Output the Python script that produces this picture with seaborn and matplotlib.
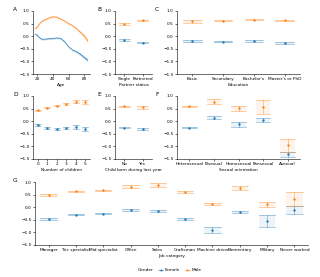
import matplotlib
matplotlib.use("Agg")
import matplotlib.pyplot as plt
import numpy as np
import pandas as pd
import seaborn as sns
from matplotlib.lines import Line2D
from matplotlib.patches import Patch

# ---- data ----
genders = ["Female", "Male"]

age = [18, 20, 23, 26, 30, 35, 40, 45, 50, 55, 60, 65, 70, 75, 80, 84]
age_female = [0.08, 0.05, -0.05, -0.12, -0.12, -0.10, -0.09, -0.07, -0.09, -0.22, -0.42, -0.55, -0.62, -0.72, -0.85, -0.95]
age_female_ci = [0.05, 0.04, 0.03, 0.03, 0.03, 0.03, 0.03, 0.03, 0.03, 0.03, 0.03, 0.03, 0.04, 0.05, 0.06, 0.08]
age_male = [0.30, 0.36, 0.48, 0.58, 0.66, 0.72, 0.77, 0.76, 0.68, 0.60, 0.50, 0.42, 0.30, 0.15, 0.00, -0.18]
age_male_ci = [0.05, 0.04, 0.03, 0.03, 0.03, 0.03, 0.03, 0.03, 0.03, 0.03, 0.03, 0.03, 0.04, 0.05, 0.06, 0.08]

partner_cats = ["Single", "Partnered"]
partner_female = [-0.15, -0.26]
partner_female_err = [0.03, 0.02]
partner_male = [0.48, 0.63]
partner_male_err = [0.04, 0.03]

edu_cats = ["Basic", "Secondary", "Bachelor's", "Master's or PhD"]
edu_female = [-0.20, -0.22, -0.20, -0.27]
edu_female_err = [0.05, 0.03, 0.03, 0.03]
edu_male = [0.59, 0.62, 0.66, 0.63]
edu_male_err = [0.07, 0.03, 0.03, 0.03]

child_cats = ["0", "1", "2", "3", "4", "5"]
child_female = [-0.16, -0.26, -0.30, -0.27, -0.23, -0.32]
child_female_err = [0.03, 0.03, 0.03, 0.04, 0.06, 0.07]
child_male = [0.43, 0.54, 0.62, 0.68, 0.77, 0.78]
child_male_err = [0.03, 0.03, 0.03, 0.04, 0.06, 0.08]

born_cats = ["No", "Yes"]
born_female = [-0.26, -0.31]
born_female_err = [0.02, 0.05]
born_male = [0.59, 0.56]
born_male_err = [0.02, 0.06]

orient_cats = ["Heterosexual", "Bisexual", "Homosexual", "Pansexual", "Asexual"]
orient_female = [-0.26, 0.14, -0.12, 0.03, -1.32]
orient_female_err = [0.02, 0.06, 0.10, 0.08, 0.09]
orient_male = [0.59, 0.78, 0.51, 0.56, -0.96]
orient_male_err = [0.02, 0.09, 0.10, 0.27, 0.25]

job_cats = ["Manager", "Tec specialist", "Mid specialist", "Office", "Sales",
            "Craftsman", "Machine driver", "Elementary", "Military", "Never worked"]
job_female = [-0.46, -0.29, -0.25, -0.10, -0.16, -0.45, -0.91, -0.20, -0.54, -0.12]
job_female_err = [0.03, 0.03, 0.03, 0.04, 0.05, 0.04, 0.13, 0.04, 0.25, 0.16]
job_male = [0.49, 0.63, 0.67, 0.82, 0.87, 0.60, 0.13, 0.76, 0.12, 0.33]
job_male_err = [0.04, 0.03, 0.03, 0.07, 0.08, 0.04, 0.05, 0.07, 0.10, 0.27]

palette = {"Female": "#1f77b4", "Male": "#ff7f0e"}
FS = 3.1


def long_frame(cats, f_mean, f_err, m_mean, m_err):
    rows = []
    for g, mean, err in [("Female", f_mean, f_err), ("Male", m_mean, m_err)]:
        for c, v, e in zip(cats, mean, err):
            for val in (v - e, v, v + e):
                rows.append({"cat": c, "gender": g, "value": val})
    return pd.DataFrame(rows)


def style_axis(ax, letter, xlabel, letter_x):
    ax.set_ylim(-1.5, 1.0)
    ax.set_yticks([-1.5, -1.0, -0.5, 0.0, 0.5, 1.0])
    ax.set_xlabel(xlabel, fontsize=FS, labelpad=1)
    ax.set_ylabel("")
    ax.tick_params(labelsize=FS, length=1.5, width=0.4, pad=1)
    for s in ["left", "bottom"]:
        ax.spines[s].set_linewidth(0.4)
    sns.despine(ax=ax)
    # panel letter placed in figure pixels
    top = ax.get_position().y1
    fig.text(letter_x / W, top + 1.5 / H, letter, fontsize=4.2, ha="left", va="center")


def cat_panel(ax, cats, f_mean, f_err, m_mean, m_err, letter, xlabel, letter_x, capsize=0.6):
    df = long_frame(cats, f_mean, f_err, m_mean, m_err)
    x = np.arange(len(cats))
    for g, mean, err in [("Female", f_mean, f_err), ("Male", m_mean, m_err)]:
        mean = np.asarray(mean)
        err = np.asarray(err)
        ax.bar(x, 2 * err, bottom=mean - err, width=capsize,
               color=palette[g], alpha=0.08, linewidth=0)
    sns.pointplot(data=df, x="cat", y="value", hue="gender", order=cats,
                  hue_order=genders, palette=palette, estimator="median",
                  errorbar=("pi", 100), linestyle="none", capsize=capsize,
                  markers="o", markersize=1.7, markeredgewidth=0, dodge=False,
                  err_kws={"linewidth": 0.45, "alpha": 0.6}, legend=False, ax=ax)
    ax.set_xlim(-0.5, len(cats) - 0.5)
    style_axis(ax, letter, xlabel, letter_x)


fig = plt.figure(figsize=(3.2, 2.77), dpi=100)
W, H = 320.0, 277.0


def add_ax(left, right, top, bottom):
    return fig.add_axes([left / W, 1 - bottom / H, (right - left) / W, (bottom - top) / H])


axA = add_ax(33, 90, 11, 74)
axB = add_ax(115, 152, 11, 74)
axC = add_ax(177, 300, 11, 74)
axD = add_ax(33, 90, 96, 159)
axE = add_ax(115, 152, 96, 159)
axF = add_ax(177, 300, 96, 159)
axG = add_ax(35, 308, 182, 245)

# A: age curves with bands
age_df = pd.DataFrame({
    "age": age * 2,
    "value": age_female + age_male,
    "gender": ["Female"] * len(age) + ["Male"] * len(age),
})
sns.lineplot(data=age_df, x="age", y="value", hue="gender", hue_order=genders,
             palette=palette, linewidth=0.6, alpha=0.8, legend=False, ax=axA)
for g, mean, ci in [("Female", age_female, age_female_ci), ("Male", age_male, age_male_ci)]:
    mean = np.asarray(mean)
    ci = np.asarray(ci)
    axA.fill_between(age, mean - ci, mean + ci, color=palette[g], alpha=0.25, linewidth=0)
axA.set_xlim(15, 87)
axA.set_xticks([20, 40, 60, 80])
style_axis(axA, "A", "Age", 13)

cat_panel(axB, partner_cats, partner_female, partner_female_err, partner_male, partner_male_err,
          "B", "Partner status", 97)
cat_panel(axC, edu_cats, edu_female, edu_female_err, edu_male, edu_male_err, "C", "Education", 155)
cat_panel(axD, child_cats, child_female, child_female_err, child_male, child_male_err,
          "D", "Number of children", 13)
cat_panel(axE, born_cats, born_female, born_female_err, born_male, born_male_err,
          "E", "Child born during last year", 97)
cat_panel(axF, orient_cats, orient_female, orient_female_err, orient_male, orient_male_err,
          "F", "Sexual orientation", 155)
cat_panel(axG, job_cats, job_female, job_female_err, job_male, job_male_err, "G", "Job category", 13)

handles = [Patch(alpha=0), Line2D([], [], marker="o", linestyle="-", color=palette["Female"],
                                  markersize=1.5, markeredgewidth=0, linewidth=0.4),
           Line2D([], [], marker="o", linestyle="-", color=palette["Male"],
                  markersize=1.5, markeredgewidth=0, linewidth=0.4)]
fig.legend(handles, ["Gender", "Female", "Male"], ncol=3, loc="center",
           bbox_to_anchor=(0.52, 1 - 270 / H), frameon=False, fontsize=FS,
           handlelength=1.2, columnspacing=1.0, handletextpad=0.4)

fig.savefig("out.png", dpi=100)
